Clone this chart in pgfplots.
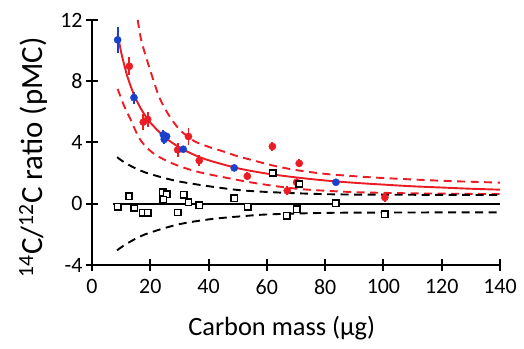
\documentclass[border=0pt]{standalone}
\usepackage{pgfplots}
\pgfplotsset{compat=1.18}
\usepackage{fontspec}
\setmainfont{Carlito}
\definecolor{myred}{RGB}{235,28,36}
\definecolor{myblue}{RGB}{25,65,205}
\begin{document}
\begin{tikzpicture}
\begin{axis}[
  scale only axis, width=408bp, height=245bp,
  xmin=0, xmax=140, ymin=-4, ymax=12,
  axis x line=bottom, axis y line=left,
  axis line style={-, line width=2bp, black},
  xtick={0,20,40,60,80,100,120,140}, ytick={-4,0,4,8,12},
  xticklabels={0,20,40,60,80,100,120,140}, yticklabels={-4,0,4,8,12},
  tick align=center, major tick length=12bp,
  tick style={line width=2bp, black},
  ticklabel style={font=\fontsize{22}{25}\selectfont},
  xticklabel style={yshift=-5bp},
  xlabel={Carbon mass (µg)},
  ylabel={\textsuperscript{14}C/\textsuperscript{12}C ratio (pMC)},
  xlabel style={font=\fontsize{26.5}{30}\selectfont, at={(axis description cs:0.465,0)}, anchor=base, yshift=-70bp},
  ylabel style={font=\fontsize{31}{34}\selectfont, at={(axis description cs:-0.1225,0.44)}, rotate=0, anchor=base},
]
% red dashed band
\addplot[myred, line width=1.9bp, dash pattern=on 8bp off 5.5bp, smooth] coordinates {
(15.7,12.0) (17,10.6) (20,8.7) (23,7.0) (26,5.9) (30,4.85) (35,4.1) (40,3.72) (45,3.42) (50,3.1) (55,2.85) (62,2.5) (70,2.2) (80,1.95) (90,1.8) (100,1.68) (120,1.5) (140,1.38)};
\addplot[myred, line width=1.9bp, dash pattern=on 8bp off 5.5bp, smooth] coordinates {
(8.8,7.5) (11,6.4) (13,5.6) (16.5,4.2) (21,3.3) (28,2.6) (36,2.1) (46,1.7) (55,1.38) (65,1.1) (74,0.92) (90,0.76) (110,0.68) (140,0.63)};
% black dashed band
\addplot[black, line width=1.9bp, dash pattern=on 8bp off 5.5bp, smooth] coordinates {
(8.6,3.04) (12,2.6) (18.2,2.05) (28.5,1.51) (38.8,1.18) (50,0.9) (60,0.77) (74,0.66) (90,0.6) (140,0.57)};
\addplot[black, line width=1.9bp, dash pattern=on 8bp off 5.5bp, smooth] coordinates {
(8.6,-3.04) (12,-2.6) (18.2,-2.0) (29.6,-1.35) (41,-1.0) (52.5,-0.8) (60,-0.7) (74,-0.62) (90,-0.58) (140,-0.56)};
% black zero line
\addplot[black, line width=1.6bp] coordinates {(7.2,0) (140,0)};
% red fit curve
\addplot[myred, line width=1.9bp, smooth] coordinates {
(8.8,11.10) (10,9.90) (12,8.40) (14,7.31) (16,6.48) (18,5.83) (20,5.30) (25,4.34) (30,3.68) (35,3.20) (40,2.84) (50,2.32) (60,1.97) (70,1.72) (80,1.52) (90,1.37) (100,1.25) (110,1.14) (120,1.06) (130,0.98) (140,0.92)};
% red points
\addplot[only marks, mark=*, mark size=3.6bp, myred, mark options={fill=myred, draw=myred},
  error bars/.cd, y dir=both, y explicit, error mark=none,
  error bar style={line width=1.8bp, myred}] coordinates {
(12.8,8.98) +- (0,0.6)
(17.6,5.33) +- (0,0.5)
(19.1,5.51) +- (0,0.5)
(29.4,3.52) +- (0,0.45)
(33.1,4.39) +- (0,0.55)
(36.8,2.82) +- (0,0.35)
(53.3,1.80) +- (0,0.25)
(61.9,3.74) +- (0,0.3)
(67.0,0.85) +- (0,0.3)
(70.2,1.40) +- (0,0.3)
(71.1,2.64) +- (0,0.25)
(100.5,0.41) +- (0,0.3)
};
% blue points
\addplot[only marks, mark=*, mark size=3.6bp, myblue, mark options={fill=myblue, draw=myblue},
  error bars/.cd, y dir=both, y explicit, error mark=none,
  error bar style={line width=1.8bp, myblue}] coordinates {
(8.8,10.7) +- (0,0.87)
(14.4,6.93) +- (0,0.4)
(24.5,4.5) +- (0,0.3)
(24.8,4.2) +- (0,0.3)
(25.6,4.4) +- (0,0.25)
(31.3,3.56) +- (0,0.2)
(48.8,2.34) +- (0,0.15)
(83.7,1.40) +- (0,0.15)
};
% squares
\addplot[only marks, mark=square*, mark size=3.2bp, mark options={fill=white, draw=black, line width=1.5bp}] coordinates {
(8.8,-0.20) (12.7,0.48) (14.5,-0.28) (17.4,-0.59) (19.1,-0.59) (24.3,0.74) (25.6,0.63) (24.5,0.26)
(29.4,-0.57) (31.5,0.59) (33.1,0.11) (36.8,-0.09) (48.8,0.35) (53.4,-0.20) (66.8,-0.79)
(62.0,2.01) (71.1,1.29) (70.2,-0.37) (83.7,0.04) (100.5,-0.68)
};
\end{axis}
\pgfresetboundingbox
\path[use as bounding box] (-92bp,-84bp) rectangle (432bp,265bp);
\end{tikzpicture}
\end{document}
